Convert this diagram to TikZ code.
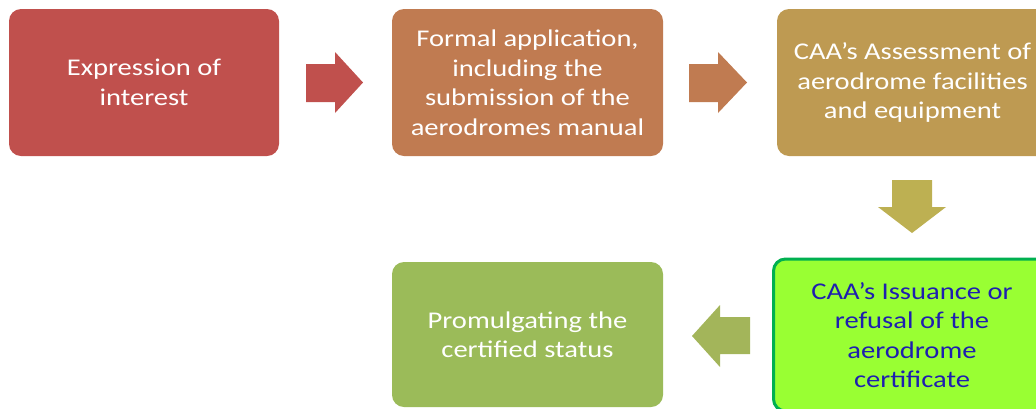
\documentclass[tikz,border=0pt]{standalone}
\usepackage{fontspec}
\setmainfont{Carlito}[FakeStretch=1.19]
\definecolor{cA}{HTML}{C0504D}
\definecolor{cB}{HTML}{C07B51}
\definecolor{cC}{HTML}{BE9A52}
\definecolor{cD}{HTML}{BDB052}
\definecolor{cE}{HTML}{9BBB59}
\definecolor{cF}{HTML}{A3B55A}
\definecolor{cG}{HTML}{99FF33}
\definecolor{cGb}{HTML}{00B050}
\definecolor{cT}{HTML}{1E1EB0}
\tikzset{
  box/.style={rectangle, rounded corners=12pt, minimum width=271pt, minimum height=147pt,
    align=center, text=white, inner sep=0pt,
    font=\fontsize{24}{29.5}\selectfont},
  blk/.style={draw=none}
}
\begin{document}
\begin{tikzpicture}[x=1pt,y=-1pt]
\useasboundingbox (0,0) rectangle (1036,408);
\clip (0,0) rectangle (1036,408);
\node[box, fill=cA, minimum width=270pt] (b1) at (144,82.5) {Expression of\\interest};
\node[box, fill=cB] (b2) at (527.5,82.5) {Formal application,\\including the\\submission of the\\aerodromes manual};
\node[box, fill=cC] (b3) at (912.5,82.5) {CAA’s Assessment of\\aerodrome facilities\\and equipment};
\node[box, fill=cG, draw=cGb, line width=3pt, text=cT, minimum width=277pt, minimum height=152pt] (b4) at (912,335) {CAA’s Issuance or\\refusal of the\\aerodrome\\certificate};
\node[box, fill=cE, minimum height=145pt] (b5) at (527.5,334.5) {Promulgating the\\certified status};
% block arrows
\fill[cA] (306,64) -- (335,64) -- (335,52) -- (363,82.5) -- (335,113) -- (335,102) -- (306,102) -- cycle;
\fill[cB] (689,64) -- (718,64) -- (718,52) -- (747,82.5) -- (718,113) -- (718,102) -- (689,102) -- cycle;
\fill[cD] (892,180) -- (932,180) -- (932,207) -- (946,207) -- (912,233) -- (878,207) -- (892,207) -- cycle;
\fill[cF] (750,317) -- (720,317) -- (720,305) -- (692,336) -- (720,367) -- (720,354) -- (750,354) -- cycle;
\end{tikzpicture}
\end{document}
